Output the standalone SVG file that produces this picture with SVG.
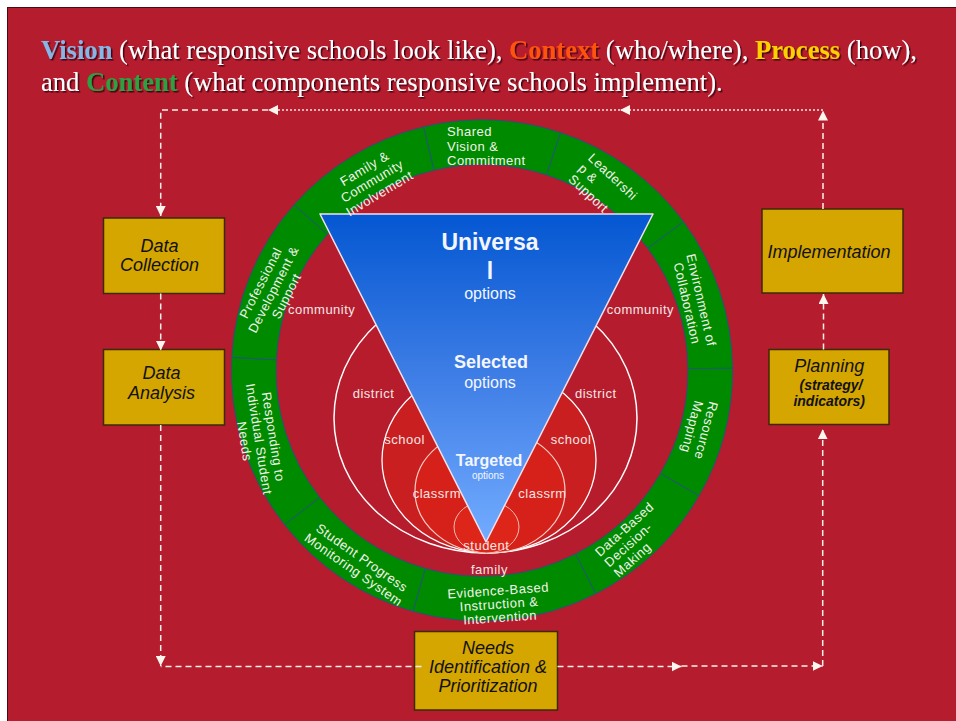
<svg xmlns="http://www.w3.org/2000/svg" width="956" height="721" viewBox="0 0 956 721">
<defs>
  <linearGradient id="triGrad" x1="0" y1="214" x2="0" y2="542" gradientUnits="userSpaceOnUse">
    <stop offset="0" stop-color="#0457d2"/>
    <stop offset="0.5" stop-color="#3f7ee6"/>
    <stop offset="1" stop-color="#72acff"/>
  </linearGradient>
  <filter id="sh" x="-5%" y="-20%" width="110%" height="150%">
    <feDropShadow dx="1.5" dy="1.5" stdDeviation="0.5" flood-color="#2a0008" flood-opacity="0.85"/>
  </filter>
  <marker id="arr" viewBox="0 0 10 10" refX="10" refY="5" markerWidth="10" markerHeight="10" markerUnits="userSpaceOnUse" orient="auto">
    <path d="M0,0 L10,5 L0,10 Z" fill="#fdf6ee"/>
  </marker>
  <style>
    .title { font-family: "Liberation Serif", "Times New Roman", serif; font-size: 26.6px; fill: #ffffff; }
    .tb { font-weight: bold; }
    .seg { fill: #008a00; stroke: #1d5b72; stroke-width: 1; }
    .rl { font-family: "Liberation Sans", Arial, sans-serif; font-size: 13px; letter-spacing: 0.5px; fill: #f2f4ea; }
    .il { font-family: "Liberation Sans", Arial, sans-serif; font-size: 13px; letter-spacing: 0.5px; fill: #f6e6e6; }
    .tl { font-family: "Liberation Sans", Arial, sans-serif; fill: #f4f6ff; text-anchor: middle; }
    .box { fill: #d5a500; stroke: #3b2a05; stroke-width: 1.5; }
    .bt { font-family: "Liberation Sans", Arial, sans-serif; font-style: italic; font-size: 18px; fill: #111111; text-anchor: middle; }
    .dash { fill: none; stroke: #fbf1ea; stroke-width: 1.5; stroke-dasharray: 6 4; }
    .dot { fill: none; stroke: #f6e4e2; stroke-width: 1.5; stroke-dasharray: 2 2; }
  </style>
</defs>

<rect x="0" y="0" width="956" height="721" fill="#ffffff"/>
<rect x="7.5" y="7.5" width="960" height="720" fill="#b51c2e" stroke="#4a0a10" stroke-width="1"/>

<g id="title" filter="url(#sh)">
  <text class="title" x="41" y="59"><tspan class="tb" fill="#86b5e6">Vision</tspan> (what responsive schools look like), <tspan class="tb" fill="#ff5210">Context</tspan> (who/where), <tspan class="tb" fill="#ffd000">Process</tspan> (how),</text>
  <text class="title" x="41" y="90.5">and <tspan class="tb" fill="#2ea043">Content</tspan> (what components responsive schools implement).</text>
</g>

<g id="ring">
  <path id="seg-shared" class="seg" d="M423.52,126.92 A250.5,250.5 0 0 1 560.65,132.67 L546.68,174.92 A206,206 0 0 0 433.91,170.19 Z"/>
  <path id="seg-leadership" class="seg" d="M560.65,132.67 A250.5,250.5 0 0 1 683.58,221.79 L647.77,248.21 A206,206 0 0 0 546.68,174.92 Z"/>
  <path id="seg-environment" class="seg" d="M683.58,221.79 A250.5,250.5 0 0 1 732.49,368.31 L687.99,368.70 A206,206 0 0 0 647.77,248.21 Z"/>
  <path id="seg-resource" class="seg" d="M732.49,368.31 A250.5,250.5 0 0 1 698.94,495.75 L660.40,473.50 A206,206 0 0 0 687.99,368.70 Z"/>
  <path id="seg-databased" class="seg" d="M698.94,495.75 A250.5,250.5 0 0 1 595.72,593.70 L575.52,554.05 A206,206 0 0 0 660.40,473.50 Z"/>
  <path id="seg-evidence" class="seg" d="M595.72,593.70 A250.5,250.5 0 0 1 412.95,611.30 L425.22,568.52 A206,206 0 0 0 575.52,554.05 Z"/>
  <path id="seg-progress" class="seg" d="M412.95,611.30 A250.5,250.5 0 0 1 284.60,524.72 L319.67,497.33 A206,206 0 0 0 425.22,568.52 Z"/>
  <path id="seg-responding" class="seg" d="M284.60,524.72 A250.5,250.5 0 0 1 231.84,357.39 L276.28,359.72 A206,206 0 0 0 319.67,497.33 Z"/>
  <path id="seg-professional" class="seg" d="M231.84,357.39 A250.5,250.5 0 0 1 294.10,204.84 L327.48,234.27 A206,206 0 0 0 276.28,359.72 Z"/>
  <path id="seg-family" class="seg" d="M294.10,204.84 A250.5,250.5 0 0 1 423.52,126.92 L433.91,170.19 A206,206 0 0 0 327.48,234.27 Z"/>
</g>

<g id="context-levels">
  <ellipse id="district" cx="485.5" cy="418" rx="151.5" ry="135" fill="#b61c2c" stroke="#ffffff" stroke-width="1.5"/>
  <ellipse id="school" cx="489" cy="460" rx="107" ry="93" fill="#c91f20" stroke="#ffffff" stroke-width="1.3"/>
  <ellipse id="classroom" cx="490" cy="491" rx="75" ry="62" fill="#d5211a" stroke="#f8d0c8" stroke-width="1.2"/>
  <ellipse id="student" cx="486.5" cy="527" rx="32.5" ry="26" fill="#dd2519" stroke="#f4b8b0" stroke-width="1"/>
</g>

<g id="triangle">
  <polygon points="320,214 653,214 486,542" fill="url(#triGrad)" stroke="#f2e0e6" stroke-width="1.5" stroke-linejoin="round"/>
  <text class="tl" x="490" y="250" font-size="23" font-weight="bold">Universa</text>
  <text class="tl" x="490" y="279" font-size="23" font-weight="bold">l</text>
  <text class="tl" x="490" y="299" font-size="16">options</text>
  <text class="tl" x="491" y="367.5" font-size="18" font-weight="bold">Selected</text>
  <text class="tl" x="490" y="387.5" font-size="16">options</text>
  <text class="tl" x="489" y="465.5" font-size="16" font-weight="bold">Targeted</text>
  <text class="tl" x="488" y="479" font-size="10">options</text>
</g>

<g id="ring-labels">
  <text class="rl" x="447" y="136">Shared<tspan x="447" y="150.5">Vision &amp;</tspan><tspan x="447" y="165">Commitment</tspan></text>
  <text class="rl" transform="translate(587.3,159) rotate(43)" x="0" y="0">Leadershi<tspan x="0" y="14.5">p &amp;</tspan><tspan x="0" y="29">Support</tspan></text>
  <text class="rl" text-anchor="middle" transform="translate(694.2,301.7) rotate(77)" x="0" y="-2.75">Environment of<tspan x="0" y="11.75">Collaboration</tspan></text>
  <text class="rl" text-anchor="middle" transform="translate(699.2,428.8) rotate(105)" x="0" y="-2.75">Resource<tspan x="0" y="11.75">Mapping</tspan></text>
  <text class="rl" transform="translate(600,557.3) rotate(-42)" x="0" y="0">Data-Based<tspan x="0" y="14">Decision-</tspan><tspan x="0" y="28">Making</tspan></text>
  <text class="rl" text-anchor="middle" transform="translate(499,604) rotate(-4)" x="0" y="-9">Evidence-Based<tspan x="0" y="4.5">Instruction &amp;</tspan><tspan x="0" y="18">Intervention</tspan></text>
  <text class="rl" text-anchor="middle" transform="translate(357.8,563.7) rotate(35)" x="0" y="-2.75">Student Progress<tspan x="0" y="11.75">Monitoring System</tspan></text>
  <text class="rl" text-anchor="middle" transform="translate(259,439) rotate(81)" x="0" y="-10">Responding to<tspan x="0" y="4.5">Individual Student</tspan><tspan x="0" y="19">Needs</tspan></text>
  <text class="rl" text-anchor="middle" transform="translate(273.5,289.5) rotate(-63)" x="0" y="-10">Professional<tspan x="0" y="4.5">Development &amp;</tspan><tspan x="0" y="19">Support</tspan></text>
  <text class="rl" text-anchor="middle" transform="translate(372,181) rotate(-31)" x="0" y="-10">Family &amp;<tspan x="0" y="4.5">Community</tspan><tspan x="0" y="19">Involvement</tspan></text>
</g>

<g id="context-labels">
  <text class="il" x="288" y="313.5">community</text>
  <text class="il" x="606.7" y="314">community</text>
  <text class="il" x="352.7" y="397.5">district</text>
  <text class="il" x="575" y="398.3">district</text>
  <text class="il" x="384.3" y="444">school</text>
  <text class="il" x="550.7" y="444.3">school</text>
  <text class="il" x="412.7" y="497.7" letter-spacing="-0.1">classrm</text>
  <text class="il" x="518.3" y="498.3" letter-spacing="-0.1">classrm</text>
  <text class="il" x="463.3" y="550">student</text>
  <text class="il" x="471" y="574">family</text>
</g>

<g id="node-data-collection">
  <rect class="box" x="103.5" y="218" width="121" height="75.5"/>
  <text class="bt" x="159.5" y="251.7">Data</text>
  <text class="bt" x="159.5" y="271">Collection</text>
</g>
<g id="node-data-analysis">
  <rect class="box" x="103.5" y="349.5" width="121" height="75.5"/>
  <text class="bt" x="161.5" y="379.3">Data</text>
  <text class="bt" x="161.5" y="399.3">Analysis</text>
</g>
<g id="node-implementation">
  <rect class="box" x="762" y="209" width="141" height="84"/>
  <text class="bt" x="829" y="258.3">Implementation</text>
</g>
<g id="node-planning">
  <rect class="box" x="769" y="349.5" width="120" height="75"/>
  <text class="bt" x="829.3" y="371.8" font-size="17.5">Planning<tspan x="831" y="390" font-size="14" font-weight="bold">(strategy/</tspan><tspan x="829.2" y="406.2" font-size="14" font-weight="bold">indicators)</tspan></text>
</g>
<g id="node-needs">
  <rect class="box" x="414.5" y="631.5" width="143" height="78.5"/>
  <text class="bt" x="488" y="654.3">Needs</text>
  <text class="bt" x="488" y="673.3">Identification &amp;</text>
  <text class="bt" x="488" y="692.3">Prioritization</text>
</g>

<g id="connectors">
  <path class="dash" d="M823,209 V110.5" marker-end="url(#arr)"/>
  <path class="dot" d="M823,110 H620" marker-end="url(#arr)"/>
  <path class="dot" d="M620,110 H268" marker-end="url(#arr)"/>
  <path class="dash" d="M268,110 H160.7 V216" marker-end="url(#arr)"/>
  <path class="dash" d="M160.7,293.5 V350.5" marker-end="url(#arr)"/>
  <path class="dash" d="M160.7,425 V666" marker-end="url(#arr)"/>
  <path class="dash" d="M421.5,666.5 H160.7"/>
  <path class="dash" d="M557.5,666.5 H681.5" marker-end="url(#arr)"/>
  <path class="dash" d="M681.5,666 H822.7" marker-end="url(#arr)"/>
  <path class="dash" d="M822.7,666 V429.3" marker-end="url(#arr)"/>
  <path class="dash" d="M823.5,349.5 V294" marker-end="url(#arr)"/>
</g>
</svg>
